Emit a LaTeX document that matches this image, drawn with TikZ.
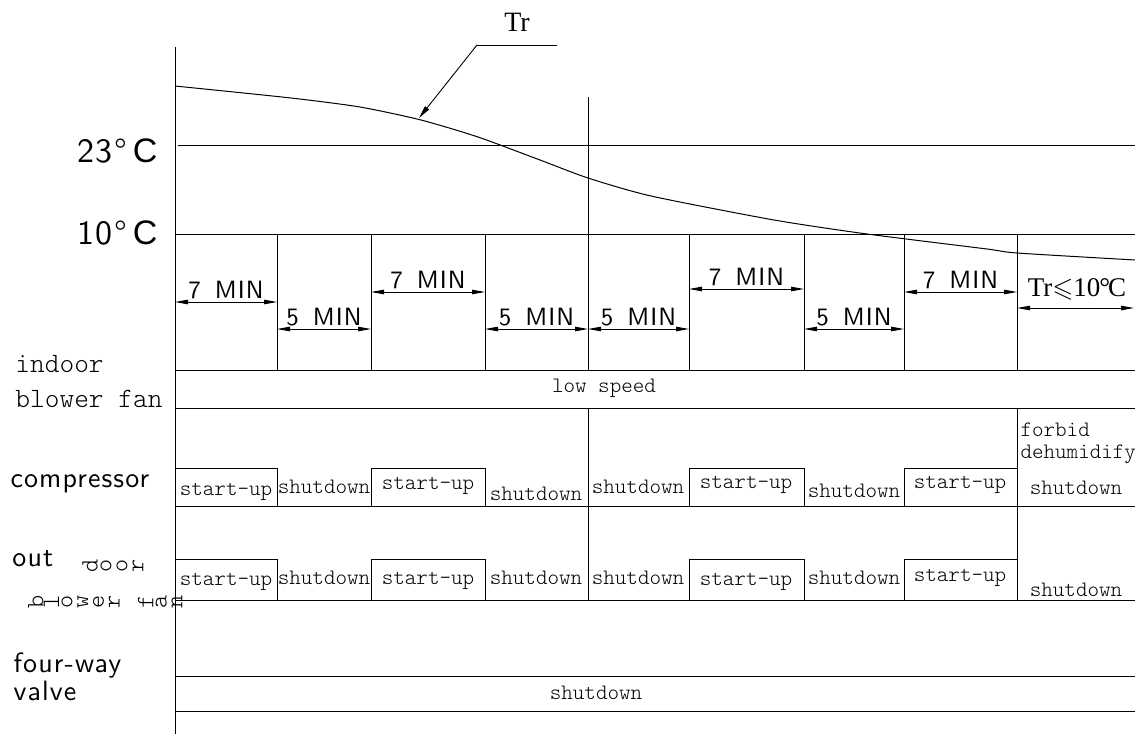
\documentclass[tikz,border=0pt]{standalone}
\usepackage{fontspec}
\usepackage{amssymb}
\usetikzlibrary{arrows.meta}
\newfontfamily\simplex{lmsans10-regular.otf}[LetterSpace=4]
\newfontfamily\simsun{lmmonolt10-regular.otf}
\newfontfamily\timesf{Liberation Serif}
\newfontfamily\helv{Liberation Sans}

\begin{document}
\begin{tikzpicture}[x=1pt, y=-1pt,
  line width=1pt,
  dimarr/.style={{Triangle[length=13pt,width=4.5pt]}-{Triangle[length=13pt,width=4.5pt]}, line width=0.9pt},
  lead/.style={-{Triangle[length=13pt,width=5pt]}, line width=0.9pt},
  mintxt/.style={font=\simplex\fontsize{25}{25}\selectfont, inner sep=0pt, anchor=base},
  rowtxt/.style={font=\simsun\fontsize{22}{22}\selectfont, inner sep=0pt},
  sidetxt/.style={font=\simplex\fontsize{28}{28}\selectfont, inner sep=0pt, anchor=base west},
  monotxt/.style={font=\simsun\fontsize{28}{28}\selectfont, inner sep=0pt, anchor=base west},
  flip/.style={font=\simsun\fontsize{25}{25}\selectfont, inner sep=0pt, rotate=90},
  degtxt/.style={font=\simplex\fontsize{34}{34}\selectfont, inner sep=0pt, anchor=base east}
]
  \useasboundingbox (0,0) rectangle (1135,734);

  % temperature part
  \draw (175,47) -- (175,734);
  \draw (178,145) -- (1135,145);
  \draw (175,234) -- (1135,234);
  \draw (588,97) -- (588,234);
  \node[degtxt] (t23) at (158,162) {23°\hspace{6pt}{\helv C}};
  \node[degtxt] (t10) at (158,244) {10°\hspace{6pt}{\helv C}};

  \draw plot[smooth, tension=0.4] coordinates {(175,86) (291,98) (360,107) (421,120)
    (478,137) (540,160) (588,178) (651,196) (774,220) (867,234) (987,249) (1017,253) (1135,260)};
  \node[font=\timesf\fontsize{28}{28}\selectfont, inner sep=0pt] (tr) at (517,22) {Tr};
  \coordinate (trbend) at (477,45);
  \draw (557,45) -- (trbend);
  \draw[lead] (trbend) -- (419,118);

  % time slots
  \foreach \x in {277,371,485,588,689,804,904,1017}
    \draw (\x,234) -- (\x,370);
  \foreach \xa/\xb/\ya/\t [count=\i] in {175/277/302/7, 277/371/329/5, 371/485/292/7,
      485/588/329/5, 588/689/329/5, 689/804/289/7, 804/904/329/5, 904/1017/292/7} {
    \draw[dimarr] (\xa,\ya) -- (\xb,\ya);
    \node[mintxt] (dim\i) at ({(\xa+\xb)/2},\ya-4) {\t\hspace{14pt}MIN};
  }
  \draw[dimarr] (1017,308) -- (1134,308);
  \node[font=\timesf\fontsize{27}{27}\selectfont, inner sep=0pt, anchor=base] (trlow)
    at (1077,296) {Tr$\leqslant$10\kern-1pt°\kern-2pt C};

  % rows
  \foreach \y in {370,408,506,600,676,711}
    \draw (175,\y) -- (1135,\y);
  \draw (588,408) -- (588,600);
  \draw (1017,408) -- (1017,600);
  \foreach \xa/\xb in {175/277,371/485,689/804,904/1017} {
    \draw (\xa,506) |- (\xb,468) -- (\xb,506);
    \draw (\xa,600) |- (\xb,559) -- (\xb,600);
  }

  \node[monotxt] (indoor) at (15,372) {indoor};
  \node[monotxt] (blower) at (15,407) {blower fan};
  \node[rowtxt] (low) at (604,388) {low speed};

  \node[sidetxt] (comp) at (10,487) {compressor};
  \foreach \x/\y/\t [count=\i] in {226/492/start-up, 324/487/shutdown, 428/486/start-up,
      536/494/shutdown, 638/487/shutdown, 746/485/start-up, 854/491/shutdown,
      960/485/start-up, 1076/488/shutdown}
    \node[rowtxt] (c\i) at (\x,\y) {\t};
  \node[rowtxt, anchor=west, align=left] (forbid) at (1020,443) {forbid\\dehumidify};

  \node[sidetxt] (out) at (12,566) {out};
  \foreach \c [count=\i] in {d,o,o,r}
    \node[flip] (door\i) at ({74+16*\i},566) {\c};
  \foreach \c [count=\i] in {b,l,o,w,e,r,{},f,a,n}
    \node[flip] (bf\i) at ({20+15.7*\i},602) {\c};
  \foreach \x/\y/\t [count=\i] in {226/582/start-up, 324/578/shutdown, 428/581/start-up,
      536/578/shutdown, 638/578/shutdown, 746/582/start-up, 854/578/shutdown,
      960/578/start-up, 1076/590/shutdown}
    \node[rowtxt] (o\i) at (\x,\y) {\t};

  \node[sidetxt] (four) at (13,672) {four-way};
  \node[sidetxt] (valve) at (13,700) {valve};
  \node[rowtxt] (valveoff) at (596,693) {shutdown};
\end{tikzpicture}
\end{document}
